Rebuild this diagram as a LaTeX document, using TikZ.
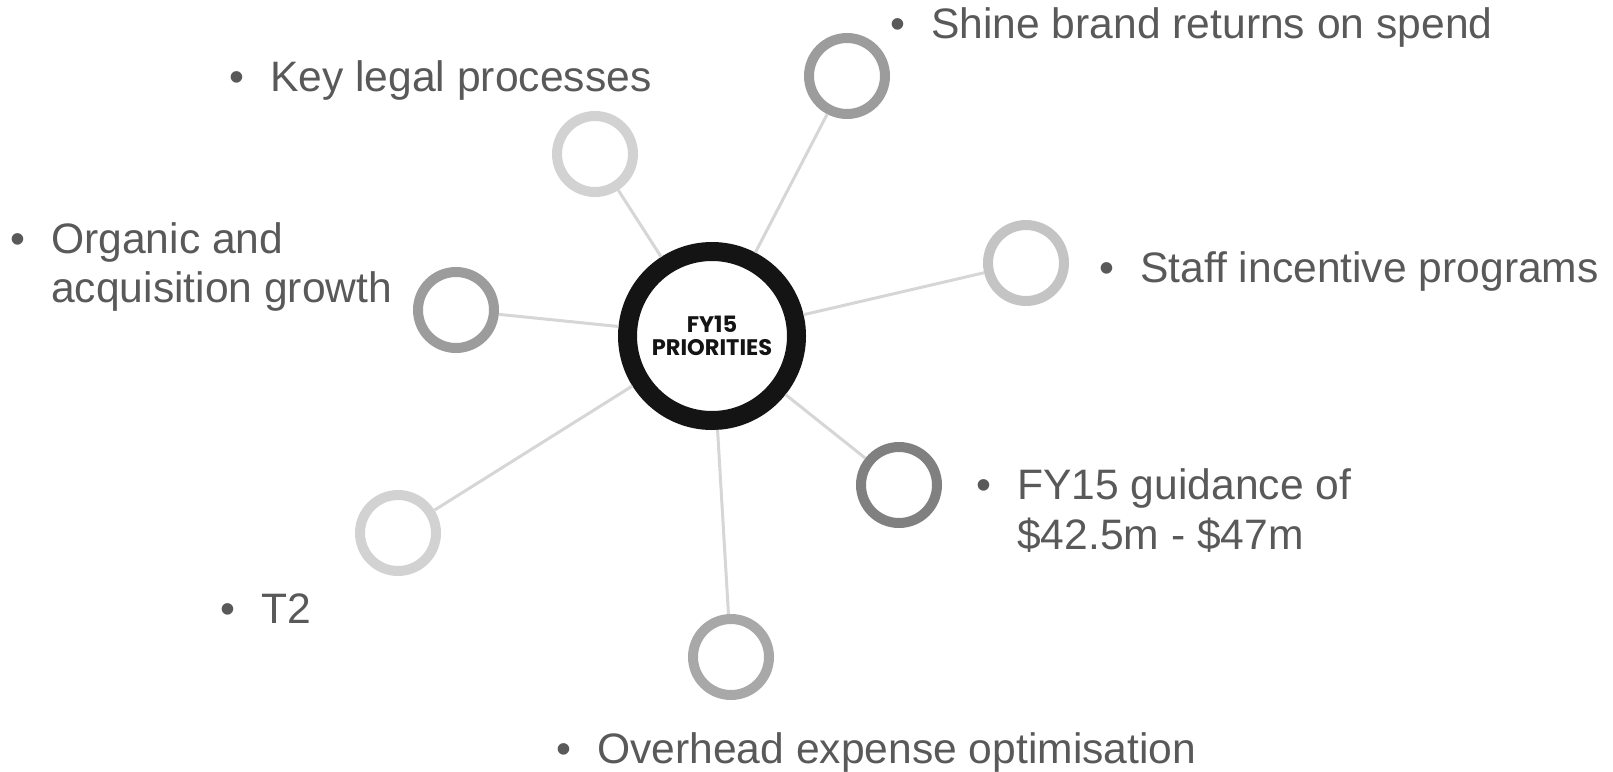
\documentclass[tikz,border=0pt]{standalone}
\usepackage{fontspec}
\setmainfont{Liberation Sans}
\newfontfamily\hubfont{Poppins}
\definecolor{hubblack}{HTML}{141414}
\definecolor{labelgray}{HTML}{595959}
\definecolor{linkgray}{HTML}{D6D6D6}
\definecolor{ringlight}{HTML}{D2D2D2}
\definecolor{ringsoft}{HTML}{C4C4C4}
\definecolor{ringmid}{HTML}{9C9C9C}
\definecolor{ringmidb}{HTML}{A8A8A8}
\definecolor{ringdark}{HTML}{808080}
\begin{document}
\begin{tikzpicture}[x=1pt,y=-1pt,
  hub/.style={circle, draw=hubblack, line width=19pt, minimum size=169pt,
    inner sep=0pt, fill=white, align=center, text=hubblack,
    font=\hubfont\bfseries\fontsize{22.5}{26}\selectfont},
  spoke/.style={circle, line width=10pt, minimum size=76pt, inner sep=0pt, fill=white},
  link/.style={draw=linkgray, line width=3pt},
  lbl/.style={anchor=base west, inner sep=0pt, text=labelgray,
    font=\fontsize{42.6}{50}\selectfont},
  dot/.style={anchor=base, inner sep=0pt, text=labelgray,
    font=\fontsize{42.6}{50}\selectfont}]
\useasboundingbox (0,0) rectangle (1613,771);

% hub and spoke rings; connectors end on the ring borders
\node[hub] (hub) at (712,336) {FY15\\[-3pt]PRIORITIES};
\node[spoke, draw=ringmid]   (shine)    at (847,76)  {};
\node[spoke, draw=ringlight] (legal)    at (595,154) {};
\node[spoke, draw=ringmid]   (organic)  at (456,310) {};
\node[spoke, draw=ringsoft]  (staff)    at (1026,263) {};
\node[spoke, draw=ringdark]  (guidance) at (899,485) {};
\node[spoke, draw=ringlight] (ttwo)     at (398,533) {};
\node[spoke, draw=ringmidb]  (overhead) at (731,657) {};

\foreach \s in {shine,legal,organic,staff,guidance,ttwo,overhead}
  \draw[link] (hub) -- (\s);

% bullet labels
\node[dot] (b1) at (898,38) {•};
\node[lbl] (t1) at (931,38) {Shine brand returns on spend};

\node[dot] (b2) at (237,91) {•};
\node[lbl] (t2) at (270,91) {Key legal processes};

\node[dot] (b3) at (18,253) {•};
\node[lbl] (t3a) at (51,253) {Organic and};
\node[lbl] (t3b) at (51,302) {acquisition growth};

\node[dot] (b4) at (1107,282) {•};
\node[lbl] (t4) at (1140,282) {Staff incentive programs};

\node[dot] (b5) at (984,499) {•};
\node[lbl] (t5a) at (1017,499) {FY15 guidance of};
\node[lbl] (t5b) at (1017,549) {\$42.5m - \$47m};

\node[dot] (b6) at (228,623) {•};
\node[lbl] (t6) at (261,623) {T2};

\node[dot] (b7) at (564,763) {•};
\node[lbl] (t7) at (597,763) {Overhead expense optimisation};
\end{tikzpicture}
\end{document}
